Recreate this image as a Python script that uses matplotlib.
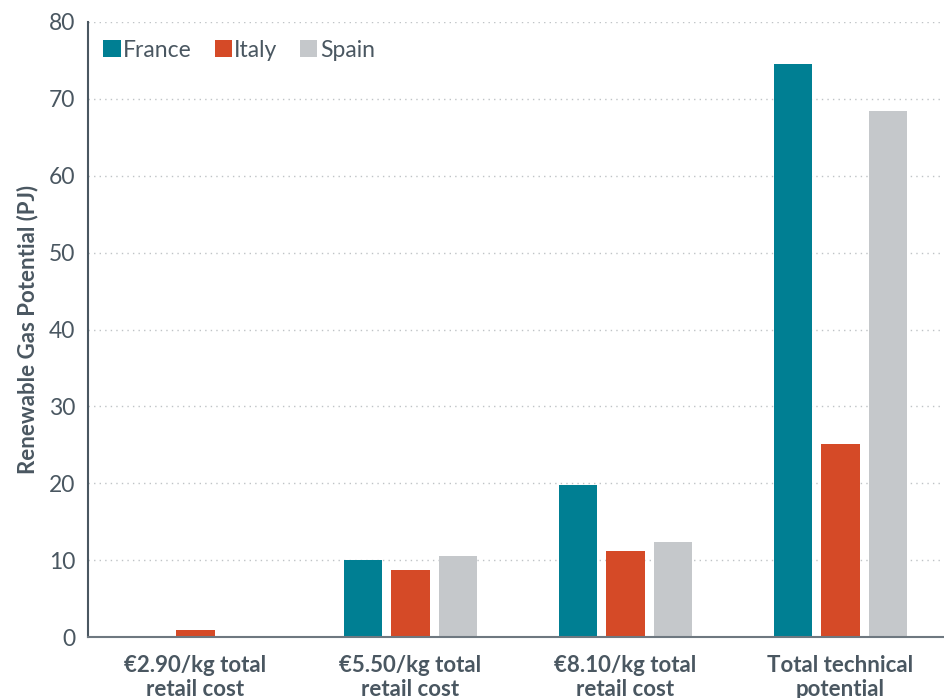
import matplotlib
matplotlib.use("Agg")
import matplotlib.pyplot as plt
import numpy as np

categories = ["€2.90/kg total\nretail cost", "€5.50/kg total\nretail cost",
              "€8.10/kg total\nretail cost", "Total technical\npotential"]
france = [0.0, 10.0, 19.8, 74.5]
italy = [0.9, 8.7, 11.2, 25.1]
spain = [0.0, 10.5, 12.4, 68.4]
yticks = [0, 10, 20, 30, 40, 50, 60, 70, 80]

COLORS = {"France": "#007F93", "Italy": "#D54A27", "Spain": "#C5C8CB"}
TXT = "#4A5761"

plt.rcParams["font.family"] = ["Lato", "DejaVu Sans"]

fig = plt.figure(figsize=(9.45, 6.98), dpi=100)
ax = fig.add_axes([88 / 945, 61 / 698, 860 / 945, 615 / 698])

x = np.arange(len(categories))
w = 0.178
off = 0.222
ax.bar(x - off, france, w, color=COLORS["France"], label="France")
ax.bar(x, italy, w, color=COLORS["Italy"], label="Italy")
ax.bar(x + off, spain, w, color=COLORS["Spain"], label="Spain")

ax.set_xlim(-0.5, 3.5)
ax.set_ylim(0, 80)
ax.set_yticks(yticks)
ax.set_yticklabels([str(t) for t in yticks], fontsize=16.5, color=TXT)
ax.set_xticks(x)
ax.set_xticklabels(categories, fontsize=16, fontweight="bold", color=TXT, linespacing=1.15)
ax.tick_params(axis="both", length=0)
ax.tick_params(axis="y", pad=9)
ax.tick_params(axis="x", pad=13)

ax.yaxis.grid(True, ls=(0, (1, 3)), color="#BFC3C6", lw=1.0)
ax.set_axisbelow(True)
for s in ["top", "right"]:
    ax.spines[s].set_visible(False)
ax.spines["left"].set_color("#4A5761")
ax.spines["bottom"].set_color("#6E7880")
ax.spines["left"].set_linewidth(1.5)
ax.spines["bottom"].set_linewidth(1.5)

ax.set_ylabel("Renewable Gas Potential (PJ)", fontsize=16, fontweight="bold", color=TXT, labelpad=8)

leg = ax.legend(loc="upper left", ncol=3, frameon=False, fontsize=16.5,
                handlelength=0.75, handleheight=0.75, handletextpad=0.1,
                columnspacing=1.0, bbox_to_anchor=(-0.006, 1.005))
for t in leg.get_texts():
    t.set_color(TXT)

fig.savefig("out.png", dpi=100)
